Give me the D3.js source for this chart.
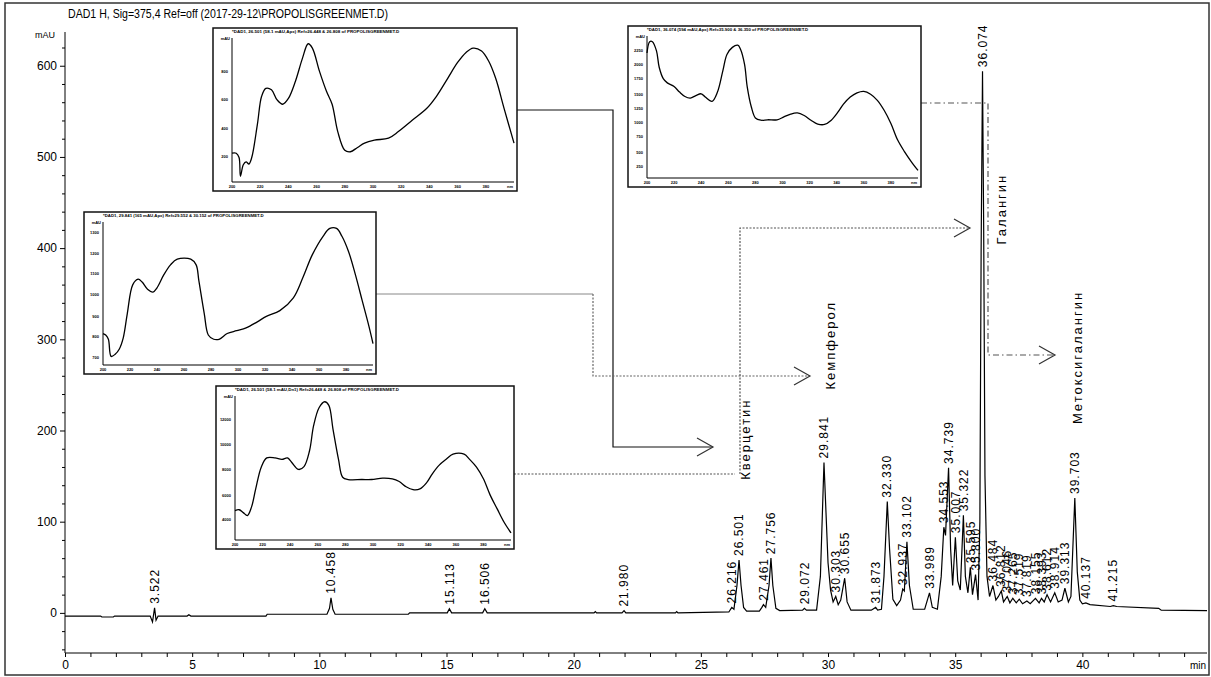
<!DOCTYPE html>
<html>
<head>
<meta charset="utf-8">
<script src="https://cdn.jsdelivr.net/npm/d3@7"></script>
<style>
  body { margin: 0; background: #fff; }
  svg { display: block; font-family: "Liberation Sans", Arial, sans-serif; }
  .axis path, .axis line { stroke: #000; stroke-width: 1; }
  .axis text { font-size: 12px; fill: #000; }
</style>
</head>
<body>
<div id="chart"></div>
<script>
// chromatogram trace: [time (min), signal (mAU)]
const trace = [
  [0, -3.5], [1.4, -3.5], [1.45, -4.5], [1.9, -4.5], [1.95, -3.5], [3.35, -3.5], [3.44, -10], [3.522, 5.5],
  [3.58, -8], [3.66, -3.5], [4.8, -3.5], [4.87, -2], [4.95, -3.5], [7.9, -3.5], [7.95, -1.5], [10.3, -1.5],
  [10.4, 5], [10.458, 16.5], [10.53, 4], [10.62, -1.5], [13.5, -1.5], [13.55, 0], [15.03, 0], [15.113, 4.5],
  [15.2, 0], [16.42, 0], [16.506, 4.5], [16.6, 0], [20.8, 0], [20.85, 1.5], [20.9, 0], [21.9, 0], [21.98, 2.5],
  [22.05, 0], [24.0, 0], [24.05, 1.5], [24.1, 0], [26.1, 1], [26.216, 6], [26.3, 4], [26.42, 30], [26.501, 58],
  [26.58, 30], [26.68, 6], [26.8, 2], [27.3, 2], [27.4, 6], [27.461, 9], [27.55, 6], [27.68, 30], [27.756, 60],
  [27.83, 30], [27.95, 5], [28.1, 2.5], [29.0, 3], [29.072, 5], [29.15, 3], [29.55, 3], [29.7, 40], [29.841, 165],
  [29.92, 110], [30.0, 55], [30.1, 25], [30.2, 12], [30.303, 18], [30.4, 9], [30.5, 14], [30.655, 38], [30.75, 12],
  [30.9, 3], [31.7, 3], [31.873, 6], [31.95, 3], [32.1, 4], [32.2, 40], [32.33, 122], [32.42, 70], [32.55, 15],
  [32.7, 8], [32.85, 14], [32.937, 26], [33.0, 24], [33.102, 78], [33.2, 30], [33.35, 4], [33.8, 4], [33.989, 22],
  [34.1, 6], [34.3, 4], [34.45, 40], [34.553, 94], [34.62, 85], [34.739, 159], [34.82, 70], [34.9, 30], [35.007, 83],
  [35.1, 35], [35.2, 25], [35.322, 107], [35.4, 40], [35.5, 22], [35.595, 50], [35.68, 20], [35.8, 42], [35.9, 14],
  [35.97, 100], [36.02, 400], [36.074, 594], [36.12, 420], [36.17, 150], [36.25, 40], [36.35, 18], [36.484, 30],
  [36.6, 14], [36.7, 18], [36.812, 24], [36.9, 12], [37.046, 18], [37.15, 11], [37.265, 16], [37.4, 11],
  [37.519, 15], [37.65, 10], [37.819, 13], [37.95, 10], [38.155, 16], [38.3, 11], [38.393, 16], [38.5, 12],
  [38.612, 20], [38.75, 12], [38.914, 22], [39.05, 12], [39.2, 14], [39.313, 27], [39.45, 12], [39.55, 18],
  [39.703, 126], [39.8, 45], [39.9, 14], [40.0, 10], [40.137, 11], [40.3, 9], [41.1, 7], [41.215, 8], [41.35, 7],
  [43.0, 5], [43.1, 3], [44.9, 2.5]
];

// integrated peaks (retention time) and their printed labels
const peakTimes = [3.522, 10.458, 15.113, 16.506, 21.98, 26.216, 26.501, 27.461, 27.756, 29.072, 29.841, 30.303,
  30.655, 31.873, 32.33, 32.937, 33.102, 33.989, 34.553, 34.739, 35.007, 35.322, 35.595, 35.8, 36.074, 36.484,
  36.812, 37.046, 37.265, 37.519, 37.819, 38.155, 38.393, 38.612, 38.914, 39.313, 39.703, 40.137, 41.215];
const peakLabels = ["3.522", "10.458", "15.113", "16.506", "21.980", "26.216", "26.501", "27.461", "27.756",
  "29.072", "29.841", "30.303", "30.655", "31.873", "32.330", "32.937", "33.102", "33.989", "34.553", "34.739",
  "35.007", "35.322", "35.595", "35.800", "36.074", "36.484", "36.812", "37.046", "37.265", "37.519", "37.819",
  "38.155", "38.393", "38.612", "38.914", "39.313", "39.703", "40.137", "41.215"];

// compound names (rotated), anchored at time / mAU
const compoundNames = ["Кверцетин", "Кемпферол", "Галангин", "Метоксигалангин"];
const compoundTimes = [26.75, 30.1, 36.82, 39.8];
const compoundLevels = [146, 245, 404, 207];

const xTicks = d3.range(0, 45, 1);
const yTicks = d3.range(-40, 637, 20);

// UV spectra in the insets: [wavelength nm, relative absorbance 0..100]
const spectrumA = [[200,20],[203,20],[205,17],[206,4],[208,12],[210,14],[212,12.5],[214,17],[218,40],[221,59.5],
  [224,65],[228,64],[232,57],[236,54],[240,58],[245,70],[250,86],[254,96],[257,93],[262,77],[267,63],[271,54],
  [275,35],[280,22],[284,21],[289,24],[294,27],[301,29],[311,30.5],[318,35],[328,43],[338,51],[345,59.5],[353,72],
  [360,83],[366,90],[371,93],[377,91],[382,84],[387,72],[393,51],[400,27]];
const spectrumB = [[200,22],[202,21],[204,18],[206,6],[209,7.5],[212,11],[215,19],[218,36],[222,56],[226,60],
  [229,58],[233,53],[237,51],[240,54],[245,63],[250,70],[255,74],[265,74],[269,70],[271,59],[275,36],[278,21],
  [282,18],[286,18],[292,22],[299,24],[306,26],[314,30],[321,34],[331,38],[341,47],[348,61],[355,77],[363,90],
  [368,95.5],[373,95.5],[377,90],[382,79],[387,63],[392,45],[397,27],[400,15]];
const spectrumC = [[200,20.4],[203,21],[206,19],[209,17],[212,23],[215,35.5],[219,50.6],[223,57],[229,57],[234,56],
  [238,57],[241,54],[246,49],[250,51],[254,62],[257,79.6],[261,92],[265,96],[268,93.5],[271,77],[275,56],[278,43.6],
  [282,42],[292,42],[299,42],[307,43],[314,42.5],[319,40.6],[324,37],[329,35],[334,35.5],[339,40],[343,46],[348,52],
  [353,56],[358,59.6],[366,59.6],[370,56],[375,50.6],[380,42.5],[385,31],[390,21.6],[395,12.3],[400,4.9]];
const spectrumD = [[200,88],[202,96],[204,96],[207,89.5],[209,78],[212,70],[215,67],[220,64.4],[224,60.5],[228,57.4],
  [232,56.3],[236,58],[240,59.3],[243,57],[248,54],[252,60.5],[256,75.6],[259,87],[263,92],[267,93.5],[269,90.7],
  [272,80],[274,64],[277,50],[280,42.3],[284,40.7],[289,41],[296,41],[301,43],[306,45],[311,45.8],[316,44],
  [321,40.7],[326,38],[331,37.7],[336,40.7],[341,46.5],[345,52],[350,57],[355,60],[360,61],[365,59],[370,54.7],
  [375,47.7],[380,38.4],[385,26.7],[390,18.6],[395,11.6],[400,5.3]];

const insetXTicks = d3.range(200, 400, 20);
const insetYTicksA = [18, 37, 57, 77], insetYLabelsA = ["200", "400", "600", "800"];
const insetYTicksB = [5, 20, 34, 49, 64, 78, 93], insetYLabelsB = ["700", "800", "900", "1000", "1100", "1200", "1300"];
const insetYTicksC = [14, 31, 49, 66, 84], insetYLabelsC = ["4000", "6000", "8000", "10000", "12000"];
const insetYTicksD = [8, 18, 29, 39, 49, 59, 70, 80, 90], insetYLabelsD = ["250", "500", "750", "1000", "1250", "1500", "1750", "2000", "2250"];
const insetHeaders = [
  "*DAD1, 26.501 (58.1 mAU,Apx) Ref=26.448 & 26.808 of PROPOLISGREENMET.D",
  "*DAD1, 29.841 (165 mAU,Apx) Ref=29.552 & 30.152 of PROPOLISGREENMET.D",
  "*DAD1, 26.501 (58.1 mAU,Dn1) Ref=26.448 & 26.808 of PROPOLISGREENMET.D",
  "*DAD1, 36.074 (594 mAU,Apx) Ref=35.900 & 36.350 of PROPOLISGREENMET.D"
];

const W = 1211, H = 677;
const svg = d3.select("#chart").append("svg").attr("width", W).attr("height", H);

// outer frame + title
svg.append("rect").attr("x", 5).attr("y", 3).attr("width", 1204).attr("height", 672)
  .attr("fill", "none").attr("stroke", "#333").attr("stroke-width", 1.5);
svg.append("text").attr("x", 68).attr("y", 18).attr("font-size", 12)
  .attr("textLength", 320).attr("lengthAdjust", "spacingAndGlyphs")
  .text("DAD1 H, Sig=375,4 Ref=off (2017-29-12\\PROPOLISGREENMET.D)");

const x = d3.scaleLinear().domain([0, 44.9]).range([65, 1207]);
const y = d3.scaleLinear().domain([-44, 637]).range([653, 32]);

// axes
const yAxis = svg.append("g").attr("class", "axis").attr("transform", `translate(${x(0)},0)`)
  .call(d3.axisLeft(y).tickValues(yTicks).tickSizeOuter(0).tickPadding(2)
    .tickFormat(d => d >= 0 && d % 100 === 0 ? d : ""));
yAxis.selectAll(".tick line").attr("x2", d => d % 100 === 0 ? -5 : -3);
yAxis.select(".domain").attr("d", `M0,${y(637)}V${y(-44)}`);

const xAxis = svg.append("g").attr("class", "axis").attr("transform", `translate(0,${y(-44)})`)
  .call(d3.axisBottom(x).tickValues(xTicks).tickSizeOuter(0).tickSize(4).tickPadding(3)
    .tickFormat(d => d % 5 === 0 ? d : ""));
xAxis.select(".domain").attr("d", `M${x(0)},0H${x(44.9)}`);

svg.append("text").attr("x", x(0) - 10).attr("y", y(637) + 6).attr("font-size", 9)
  .attr("text-anchor", "end").text("mAU");
svg.append("text").attr("x", 1206).attr("y", 669).attr("font-size", 10)
  .attr("text-anchor", "end").text("min");

// chromatogram
const line = d3.line().x(d => x(d[0])).y(d => y(d[1]));
svg.append("path").datum(trace).attr("d", line)
  .attr("fill", "none").attr("stroke", "#000").attr("stroke-width", 1.2);

// peak labels above apex (nearest trace point)
const apex = t => d3.least(trace, d => Math.abs(d[0] - t))[1];
svg.append("g").selectAll("text").data(peakTimes).join("text")
  .attr("transform", d => `translate(${x(d)},${y(apex(d)) - 4}) rotate(-90)`)
  .attr("dy", "0.35em").attr("font-size", 12).attr("letter-spacing", 1)
  .text((d, i) => peakLabels[i]);

// compound names
svg.append("g").selectAll("text").data(compoundNames).join("text")
  .attr("transform", (d, i) => `translate(${x(compoundTimes[i])},${y(compoundLevels[i])}) rotate(-90)`)
  .attr("dy", "0.35em").attr("font-size", 13).attr("letter-spacing", 2)
  .text(d => d);

// connectors from spectra to compound names
const connectors = [
  { pts: [[517, 110], [613, 110], [613, 447], [713, 447]], dash: null, color: "#111", w: 1.2 },
  { pts: [[376, 294], [593, 294]], dash: null, color: "#888", w: 1 },
  { pts: [[593, 294], [593, 376], [810, 376]], dash: "2,1.5", color: "#666", w: 1.2 },
  { pts: [[514, 474], [735, 474]], dash: "2,1.5", color: "#555", w: 1.2 },
  { pts: [[740, 474], [740, 228], [970, 228]], dash: "2,1.5", color: "#555", w: 1.2 },
  { pts: [[921, 103], [988, 103], [988, 355], [1055, 355]], dash: "6,3,1.5,3", color: "#555", w: 1.2 }
];
const arrowTips = [[713, 447], [810, 376], [970, 228], [1055, 355]];
connectors.forEach(c => {
  svg.append("path").attr("d", d3.line()(c.pts)).attr("fill", "none")
    .attr("stroke", c.color).attr("stroke-width", c.w).attr("stroke-dasharray", c.dash);
});
arrowTips.forEach(([tx, ty]) => {
  svg.append("path").attr("d", `M${tx - 16},${ty - 9}L${tx},${ty}L${tx - 16},${ty + 9}`)
    .attr("fill", "none").attr("stroke", "#333").attr("stroke-width", 1.2);
});

// inset spectra
const insets = [
  { box: [213, 28, 517, 191], data: spectrumA, yt: insetYTicksA, yl: insetYLabelsA, head: insetHeaders[0] },
  { box: [84, 212, 376, 374], data: spectrumB, yt: insetYTicksB, yl: insetYLabelsB, head: insetHeaders[1] },
  { box: [216, 386, 514, 549], data: spectrumC, yt: insetYTicksC, yl: insetYLabelsC, head: insetHeaders[2] },
  { box: [628, 26, 921, 187], data: spectrumD, yt: insetYTicksD, yl: insetYLabelsD, head: insetHeaders[3] }
];
insets.forEach(ins => {
  const [x0, y0, x1, y1] = ins.box;
  const g = svg.append("g");
  g.append("rect").attr("x", x0).attr("y", y0).attr("width", x1 - x0).attr("height", y1 - y0)
    .attr("fill", "#fff").attr("stroke", "#111").attr("stroke-width", 1.5);
  const ix = d3.scaleLinear().domain([200, 400]).range([x0 + 19, x1 - 3]);
  const iy = d3.scaleLinear().domain([0, 100]).range([y1 - 9, y0 + 10]);
  g.append("path").attr("d", `M${ix(200)},${iy(100)}V${iy(0)}H${ix(400)}`)
    .attr("fill", "none").attr("stroke", "#000").attr("stroke-width", 1);
  g.append("text").attr("x", ix(200)).attr("y", y0 + 5).attr("font-size", 4).attr("font-weight", "bold")
    .attr("textLength", (x1 - x0) * 0.55).attr("lengthAdjust", "spacingAndGlyphs").text(ins.head);
  g.selectAll(".xt").data(insetXTicks).join("text")
    .attr("x", d => ix(d)).attr("y", iy(0) + 6).attr("font-size", 4).attr("font-weight", "bold")
    .attr("text-anchor", "middle").text(d => d);
  g.append("text").attr("x", ix(400) - 4).attr("y", iy(0) + 6).attr("font-size", 4).attr("font-weight", "bold")
    .attr("text-anchor", "middle").text("nm");
  g.selectAll(".yt").data(ins.yt).join("text")
    .attr("x", ix(200) - 4).attr("y", d => iy(d) + 1.5).attr("font-size", 4).attr("font-weight", "bold")
    .attr("text-anchor", "end").text((d, i) => ins.yl[i]);
  g.append("text").attr("x", ix(200) - 2).attr("y", iy(100) + 1.5).attr("font-size", 4).attr("font-weight", "bold")
    .attr("text-anchor", "end").text("mAU");
  g.append("path").datum(ins.data)
    .attr("d", d3.line().x(d => ix(d[0])).y(d => iy(d[1])).curve(d3.curveCatmullRom))
    .attr("fill", "none").attr("stroke", "#000").attr("stroke-width", 1.3);
});
</script>
</body>
</html>
